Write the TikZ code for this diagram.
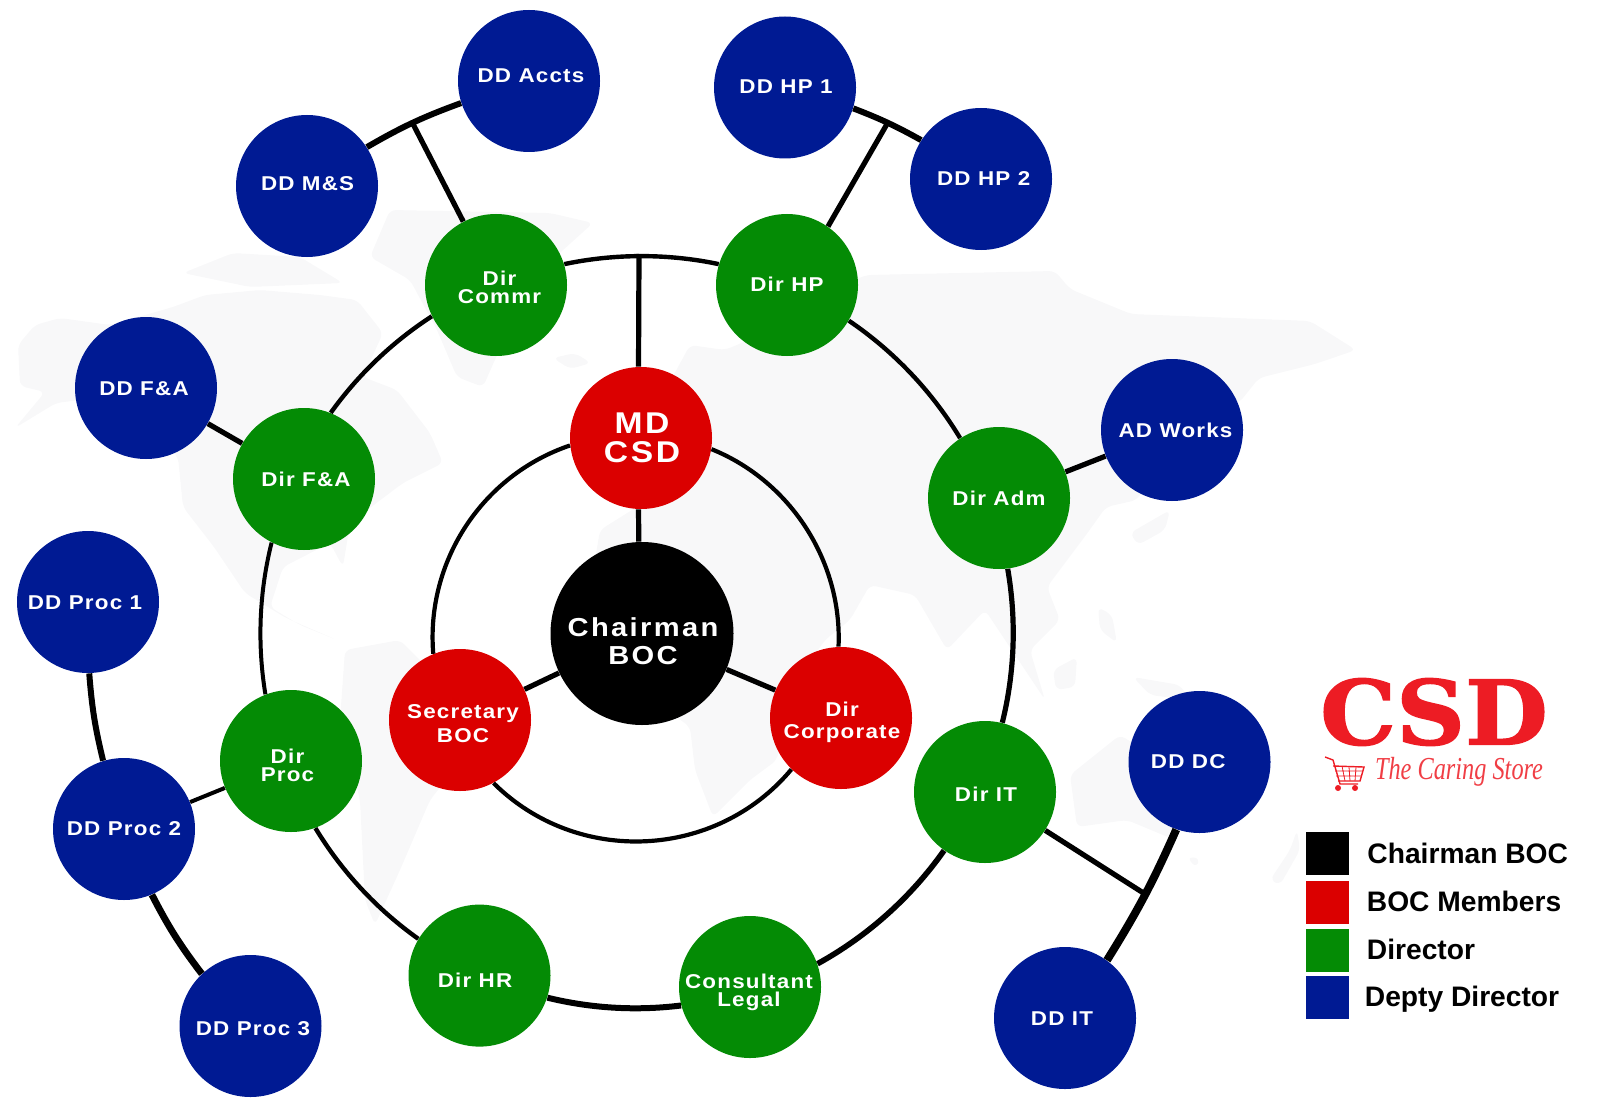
\documentclass[tikz,border=0pt]{standalone}
\usepackage{fontspec}
\setmainfont{Liberation Sans}
\newfontfamily\labelfont[LetterSpace=6,FakeStretch=1.12]{Liberation Sans}
\newfontfamily\bigfont[LetterSpace=9,FakeStretch=1.12]{Liberation Sans}
\newfontfamily\logofont[FakeBold=1.5]{DejaVu Serif}
\newfontfamily\tagfont{Liberation Serif}
\definecolor{chiefblack}{RGB}{0,0,0}
\definecolor{bocred}{RGB}{219,0,0}
\definecolor{dirgreen}{RGB}{4,139,5}
\definecolor{ddblue}{RGB}{0,26,147}
\definecolor{logored}{RGB}{237,28,36}
\definecolor{mapgrey}{RGB}{248,248,249}
\tikzset{
  chiefnode/.style={circle,fill=chiefblack,minimum size=91.5pt,inner sep=0pt},
  bocnode/.style={circle,fill=bocred,minimum size=71pt,inner sep=0pt},
  dirnode/.style={circle,fill=dirgreen,minimum size=71pt,inner sep=0pt},
  ddnode/.style={circle,fill=ddblue,minimum size=71pt,inner sep=0pt},
  nodetext/.style={text=white,align=center,inner sep=0pt,font=\labelfont\bfseries\fontsize{10}{9}\selectfont},
  bigtext/.style={text=white,align=center,inner sep=0pt,font=\bigfont\bfseries\fontsize{13}{14}\selectfont},
  legendbox/.style={rectangle,minimum size=21.5pt,inner sep=0pt},
  legendtext/.style={anchor=base west,inner sep=0pt,font=\bfseries\fontsize{14.1}{16}\selectfont},
  ringline/.style={line width=2.2pt},
  innerline/.style={line width=2.1pt},
  linkline/.style={line width=2.6pt},
  outerline/.style={line width=3pt},
  maparea/.style={fill=mapgrey,draw=none,rounded corners=3pt},
}
\begin{document}
\begin{tikzpicture}[x=0.5pt,y=0.5pt,yscale=-1]
\useasboundingbox (0,0) rectangle (1599,1107);

%Shape: World map
\fill [maparea] (18,345) -- (35,325) -- (60,318) -- (110,325) -- (173,307) -- (205,295) -- (260,290) -- (320,295) -- (357,300) -- (383,333) -- (363,377) -- (397,390) -- (430,433) -- (443,463) -- (403,483) -- (350,523) -- (343,567) -- (330,543) -- (283,567) -- (270,607) -- (300,625) -- (337,640) -- (286,618) -- (245,593) -- (214,547) -- (183,507) -- (178,457) -- (120,395) -- (56,403) -- (15,428) -- (45,392) -- (20,386) -- cycle;
\fill [maparea] (183,273) -- (233,253) -- (300,257) -- (343,283) -- (250,287) -- cycle;
\fill [maparea] (370,257) -- (390,210) -- (550,213) -- (593,223) -- (530,280) -- (483,387) -- (457,377) -- (437,330) -- (410,280) -- cycle;
\fill [maparea] (553,358) -- (575,353) -- (591,363) -- (570,369) -- cycle;
\fill [maparea] (345,650) -- (400,640) -- (450,690) -- (470,750) -- (430,800) -- (400,870) -- (375,925) -- (365,900) -- (360,800) -- (340,720) -- cycle;
\fill [maparea] (600,530) -- (640,505) -- (630,450) -- (660,400) -- (690,345) -- (725,350) -- (760,335) -- (810,300) -- (866,275) -- (1055,271) -- (1070,289) -- (1131,314) -- (1234,318) -- (1310,321) -- (1356,350) -- (1315,364) -- (1259,378) -- (1239,403) -- (1200,400) -- (1137,500) -- (1106,507) -- (1086,535) -- (1047,587) -- (1060,620) -- (1030,650) -- (1045,700) -- (1005,640) -- (985,610) -- (947,650) -- (915,595) -- (870,585) -- (850,620) -- (825,640) -- (790,690) -- (777,760) -- (750,780) -- (713,817) -- (695,770) -- (690,727) -- (640,690) -- (600,640) -- (590,590) -- cycle;
\fill [maparea] (1130,533) -- (1170,510) -- (1165,530) -- (1138,545) -- cycle;
\fill [maparea] (1053,670) -- (1077,657) -- (1075,687) -- (1056,690) -- cycle;
\fill [maparea] (1098,607) -- (1112,615) -- (1117,643) -- (1100,630) -- cycle;
\fill [maparea] (1133,677) -- (1180,685) -- (1190,700) -- (1150,695) -- cycle;
\fill [maparea] (1070,775) -- (1120,735) -- (1160,760) -- (1175,840) -- (1127,820) -- (1077,827) -- cycle;
\fill [maparea] (1187,857) -- (1200,858) -- (1196,868) -- cycle;
\fill [maparea] (1270,880) -- (1290,850) -- (1297,830) -- (1300,850) -- (1280,885) -- cycle;

%Shape: Circle
\node [chiefnode,label={[bigtext,shift={(1,-7.5)}]center:Chairman\\BOC}] (chairman) at (642,633.5) {};
\node [bocnode,label={[text=white,align=center,inner sep=0pt,font=\bigfont\bfseries\fontsize{15}{14.3}\selectfont,shift={(1,0)}]center:MD\\CSD}] (mdcsd) at (641,438) {};
\node [bocnode,label={[nodetext,shift={(3,-3.8)}]center:Secretary\\[1.7pt]BOC}] (secretary) at (460,720) {};
\node [bocnode,label={[nodetext,shift={(1,-4.3)}]center:Dir\\[2.3pt]Corporate}] (dircorp) at (841,718) {};

\node [dirnode,label={[nodetext,shift={(3.5,-2.5)}]center:Dir\\Commr}] (dircommr) at (496,285) {};
\node [dirnode,label={[nodetext,shift={(0,1)}]center:Dir HP}] (dirhp) at (787,285) {};
\node [dirnode,label={[nodetext]center:Dir Adm}] (diradm) at (999,498) {};
\node [dirnode,label={[nodetext,shift={(1,-2)}]center:Dir IT}] (dirit) at (985,792) {};
\node [dirnode,label={[nodetext,shift={(-1,-5)}]center:Consultant\\Legal}] (legal) at (750,987) {};
\node [dirnode,label={[nodetext,shift={(-4.5,-4.3)}]center:Dir HR}] (dirhr) at (479.5,975.6) {};
\node [dirnode,label={[nodetext,shift={(-3.5,-3.9)}]center:Dir\\Proc}] (dirproc) at (291,761) {};
\node [dirnode,label={[nodetext,shift={(2,0)}]center:Dir F\&A}] (dirfa) at (304,479) {};

\node [ddnode,label={[nodetext,shift={(2,5)}]center:DD Accts}] (ddaccts) at (529,81) {};
\node [ddnode,label={[nodetext,shift={(0.6,2.4)}]center:DD M\&S}] (ddms) at (307,186) {};
\node [ddnode,label={[nodetext,shift={(1,0.5)}]center:DD HP 1}] (ddhpone) at (785,87.5) {};
\node [ddnode,label={[nodetext,shift={(2.7,0)}]center:DD HP 2}] (ddhptwo) at (981,179) {};
\node [ddnode,label={[nodetext,shift={(3.5,0)}]center:AD Works}] (adworks) at (1172,430) {};
\node [ddnode,label={[nodetext,shift={(-2,-0.6)}]center:DD F\&A}] (ddfa) at (146,388) {};
\node [ddnode,label={[nodetext,shift={(-3,-0.4)}]center:DD Proc 1}] (ddprocone) at (88,602) {};
\node [ddnode,label={[nodetext]center:DD Proc 2}] (ddproctwo) at (124,829) {};
\node [ddnode,label={[nodetext,shift={(2.5,-2.4)}]center:DD Proc 3}] (ddprocthree) at (250.5,1026) {};
\node [ddnode,label={[nodetext,shift={(-11.3,0)}]center:DD DC}] (dddc) at (1199.5,762) {};
\node [ddnode,label={[nodetext,shift={(-3,-1)}]center:DD IT}] (ddit) at (1065,1018) {};

%Free ends of the connectors
\coordinate (ringtop) at (639,254);
\coordinate (commrjoin) at (413,124);
\coordinate (hpjoin) at (887,124);
\coordinate (itjoin) at (1145,894);

%Curve Lines: outer ring
\draw [ringline] (dircommr.17.9) to [bend right=11.9,looseness=0.86] (dirhp.163.8);
\draw [ringline] (dirhp.-30.6) to [bend right=12.4,looseness=0.86] (diradm.123.8);
\draw [ringline,line width=2.6pt] (diradm.-83) to [bend right=11.9,looseness=0.86] (dirit.76.2);
\draw [outerline,line width=2.8pt] (dirit.-125.4) to [bend right=13,looseness=0.86] (legal.19.8);
\draw [outerline] (legal.195.8) to [bend right=10.4,looseness=0.86] (dirhr.-18.6);
\draw [ringline] (dirhr.149.4) to [bend right=11.7,looseness=0.86] (dirproc.-70.5);
\draw [ringline,line width=2pt] (dirproc.111.3) to [bend right=11.7,looseness=0.86] (dirfa.-117.7);
\draw [ringline] (dirfa.68.1) to [bend right=10.7,looseness=0.86] (dircommr.206.1);

%Curve Lines: inner ring
\draw [innerline] (mdcsd.-9.9) to [bend right=35.3,looseness=0.93] (dircorp.92.2);
\draw [innerline] (dircorp.-134.4) to [bend right=47.5,looseness=1.01] (secretary.-62.4);
\draw [innerline] (secretary.112.2) to [bend right=38,looseness=0.95] (mdcsd.186.7);

%Straight Lines
\draw [linkline] (ringtop) -- (mdcsd.92);
\draw [linkline] (mdcsd.268) -- (chairman.92);
\draw [linkline] (chairman) -- (secretary);
\draw [linkline] (chairman) -- (dircorp);
\draw [linkline] (ddfa) -- (dirfa);
\draw [linkline] (diradm) -- (adworks);
\draw [linkline,line width=2pt] (ddproctwo) -- (dirproc);
\draw [linkline] (dircommr) -- (commrjoin);
\draw [linkline] (dirhp.55) -- (hpjoin);
\draw [linkline] (dirit) -- (itjoin);

%Curve Lines: deputies
\draw [outerline] (ddms.33) to [bend right=5] (ddaccts.198.6);
\draw [outerline] (ddhpone.-17.4) to [bend right=4] (ddhptwo.147.4);
\draw [outerline] (ddprocone.-89) to [bend left=4.6] (ddproctwo.107.8);
\draw [outerline,line width=3.4pt] (ddproctwo.-67) to [bend left=5] (ddprocthree.133.3);
\draw [outerline,line width=4pt] (dddc.251) to [bend right=4] (ddit.54);

%Shape: Logo
\node [text=logored,inner sep=0pt,xscale=1.07,font=\logofont\bfseries\fontsize{44.6}{46}\selectfont] (logocsd) at (1434,712) {CSD};
\node [text=logored!85,inner sep=0pt,xscale=0.76,font=\tagfont\itshape\fontsize{16}{16}\selectfont] (logotag) at (1459,772) {The Caring Store};
%Shape: Cart
\draw [logored,line width=0.7pt] (1325,757) -- (1333,760) -- (1340,784) -- (1358,784);
\draw [logored,line width=0.7pt] (1333,766) -- (1364,767) -- (1360,781) -- (1338,781);
\draw [logored,line width=0.4pt] (1335,771) -- (1362,771) (1336,776) -- (1361,776) (1342,766) -- (1345,781) (1349,767) -- (1350,781) (1356,767) -- (1355,781);
\fill [logored] (1338,788) circle (3) (1355,788) circle (3);

%Shape: Legend
\node [legendbox,fill=chiefblack] (keychief) at (1327.5,853.5) {};
\node [legendbox,fill=bocred] (keyboc) at (1327.5,902) {};
\node [legendbox,fill=dirgreen] (keydir) at (1327.5,950) {};
\node [legendbox,fill=ddblue] (keydd) at (1327.5,997.5) {};
% Text Node
\node [legendtext] (keychieftext) at (1367,863.7) {Chairman BOC};
\node [legendtext] (keyboctext) at (1366.5,911.7) {BOC Members};
\node [legendtext] (keydirtext) at (1366.5,959) {Director};
\node [legendtext] (keyddtext) at (1364.5,1006) {Depty Director};

\end{tikzpicture}
\end{document}
